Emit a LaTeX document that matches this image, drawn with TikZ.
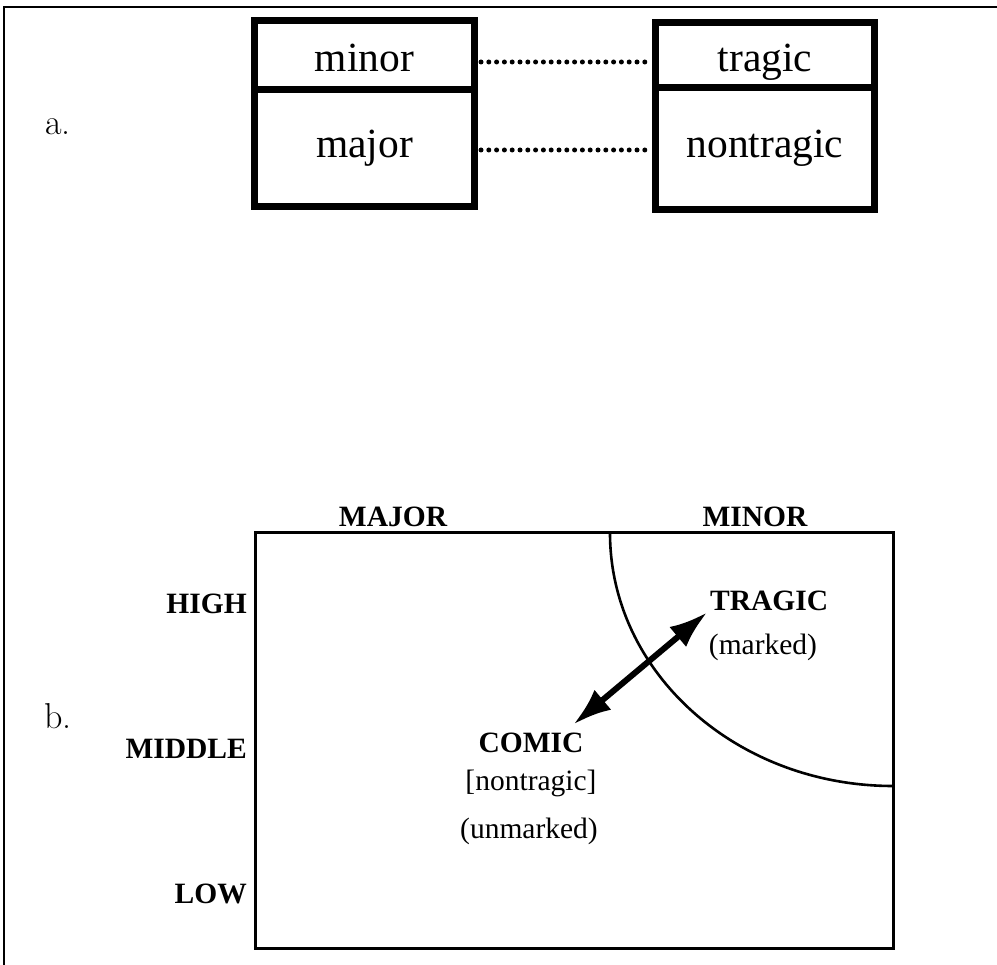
\documentclass[tikz,border=0pt]{standalone}
\usepackage{fontspec}
\setmainfont{Liberation Serif}
\newfontfamily\lmfont{Latin Modern Roman}
\usetikzlibrary{arrows.meta}
\tikzset{
  cell/.style = {draw, line width=7pt, inner sep=0pt},
  worda/.style = {inner sep=0pt, font=\fontsize{41.5}{45}\selectfont},
  wordb/.style = {inner sep=2pt, font=\fontsize{29.5}{32}\selectfont},
  capb/.style = {wordb, font=\fontsize{29.5}{32}\selectfont\bfseries},
  partlbl/.style = {inner sep=0pt, anchor=base west, font=\fontsize{36}{40}\lmfont},
  dotline/.style = {line width=5pt, line cap=round, dash pattern=on 0pt off 7.8pt},
  dblarrow/.style = {line width=6pt, {Latex[length=38pt,width=26pt]}-{Latex[length=38pt,width=26pt]}}
}
\begin{document}
\begin{tikzpicture}[x=1pt, y=-1pt]
    \useasboundingbox (0,0) rectangle (997,965);
    \draw [line width=1.5pt] (4,965) -- (4,7) -- (997,7);

    % part a
    \node [partlbl] (lbla) at (45,135) {a.};
    \node [cell, minimum width=220pt, minimum height=69.5pt] (minorbox) at (364.5,55.25) {};
    \node [cell, minimum width=220pt, minimum height=116.5pt] (majorbox) at (364.5,148.25) {};
    \node [cell, minimum width=219pt, minimum height=65.5pt] (tragicbox) at (765,55.25) {};
    \node [cell, minimum width=219pt, minimum height=121.5pt] (nontragicbox) at (765,148.75) {};
    \node [worda, anchor=base] (minor) at (364.5,72) {minor};
    \node [worda, anchor=base] (major) at (364.5,158) {major};
    \node [worda, anchor=base] (tragic) at (765,72) {tragic};
    \node [worda, anchor=base] (nontragic) at (765,158) {nontragic};
    \draw [dotline] ([xshift=3pt]minorbox.east |- 0,62) -- ([xshift=-3pt]tragicbox.west |- 0,62);
    \draw [dotline] ([xshift=3pt]majorbox.east |- 0,150) -- ([xshift=-3pt]nontragicbox.west |- 0,150);

    % part b
    \node [partlbl] (lblb) at (44,728) {b.};
    \draw [line width=3pt] (255,533) rectangle (893,948);
    \draw [line width=2.6pt] (610,533) .. controls (610,672.7) and (736.7,786) .. (893,786);
    \node [capb, anchor=base] (major2) at (393,527) {MAJOR};
    \node [capb, anchor=base] (minor2) at (755,527) {MINOR};
    \node [capb, anchor=base east, inner sep=0pt] (high) at (247,613) {HIGH};
    \node [capb, anchor=base east, inner sep=0pt] (middle) at (247,758) {MIDDLE};
    \node [capb, anchor=base east, inner sep=0pt] (low) at (247,903) {LOW};
    \node [capb, anchor=base west, inner sep=0pt] (tragic2) at (710,610) {TRAGIC};
    \node [wordb, anchor=base] (marked) at (763,655) {(marked)};
    \node [capb, anchor=base, inner sep=0pt] (comic) at (531,752) {COMIC};
    \node [wordb, anchor=base] (nontragic2) at (531,790) {[nontragic]};
    \node [wordb, anchor=base] (unmarked) at (529,838) {(unmarked)};
    \draw [dblarrow] ([xshift=-3pt,yshift=-2pt]tragic2.south west) -- ([xshift=-10pt,yshift=8pt]comic.north east);
\end{tikzpicture}
\end{document}
